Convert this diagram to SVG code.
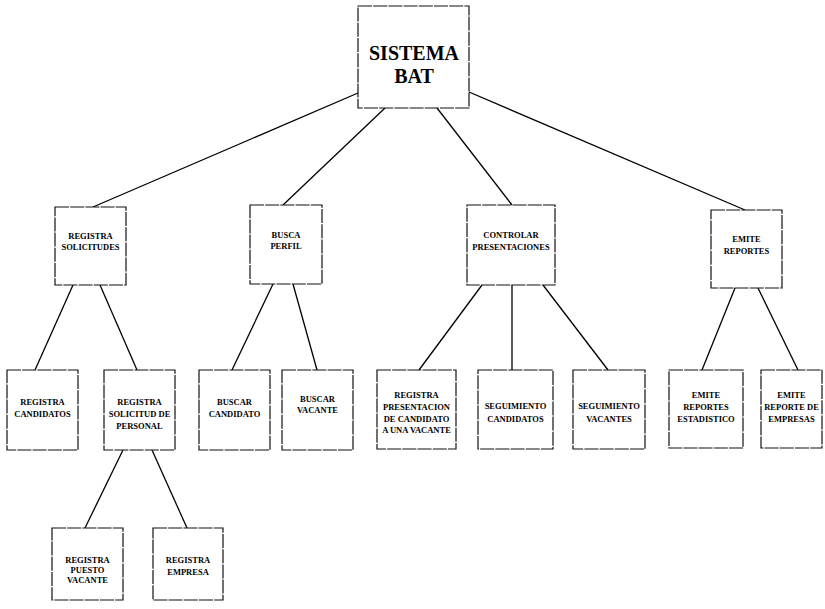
<svg xmlns="http://www.w3.org/2000/svg" width="825" height="609" viewBox="0 0 825 609">
<style>
.box{fill:#fff;stroke:#111;stroke-width:1.2;stroke-dasharray:14 1.2}
.t{font-family:"Liberation Serif","Times New Roman",serif;font-weight:bold;font-size:8.5px;fill:#000;text-anchor:middle}
.big{font-size:20px}
.c line{stroke:#000;stroke-width:1.3}
</style>
<rect width="825" height="609" fill="#fff"/>
<g class="c" id="connectors">
<line x1="358" y1="93" x2="93" y2="207"/>
<line x1="385" y1="108" x2="283" y2="205"/>
<line x1="437" y1="108" x2="512" y2="205"/>
<line x1="469" y1="92" x2="745" y2="210"/>
<line x1="73" y1="285" x2="35" y2="370"/>
<line x1="100" y1="285" x2="137" y2="370"/>
<line x1="273" y1="284" x2="232" y2="370"/>
<line x1="293" y1="284" x2="317" y2="370"/>
<line x1="482" y1="285" x2="419" y2="370"/>
<line x1="512" y1="285" x2="512" y2="370"/>
<line x1="543" y1="285" x2="608" y2="370"/>
<line x1="735" y1="288" x2="702" y2="370"/>
<line x1="758" y1="288" x2="798" y2="370"/>
<line x1="123" y1="450" x2="85" y2="528"/>
<line x1="152" y1="450" x2="187" y2="528"/>
</g>
<g id="root"><rect class="box" x="358" y="6" width="111" height="102"/>
<text class="t big" x="414" y="60">SISTEMA</text><text class="t big" x="414" y="83">BAT</text></g>
<g id="registra-solicitudes"><rect class="box" x="55" y="207" width="71" height="78"/>
<text class="t" x="90.5" y="239">REGISTRA</text><text class="t" x="90.5" y="250">SOLICITUDES</text></g>
<g id="busca-perfil"><rect class="box" x="250" y="205" width="72" height="79"/>
<text class="t" x="286" y="238">BUSCA</text><text class="t" x="286" y="249">PERFIL</text></g>
<g id="controlar-presentaciones"><rect class="box" x="467" y="205" width="88" height="80"/>
<text class="t" x="511" y="238">CONTROLAR</text><text class="t" x="511" y="250">PRESENTACIONES</text></g>
<g id="emite-reportes"><rect class="box" x="711" y="210" width="71" height="78"/>
<text class="t" x="746.5" y="242">EMITE</text><text class="t" x="746.5" y="254">REPORTES</text></g>
<g id="registra-candidatos"><rect class="box" x="7" y="370" width="71" height="80"/>
<text class="t" x="42.5" y="405">REGISTRA</text><text class="t" x="42.5" y="417">CANDIDATOS</text></g>
<g id="registra-solicitud-personal"><rect class="box" x="104" y="370" width="71" height="80"/>
<text class="t" x="139.5" y="405">REGISTRA</text><text class="t" x="139.5" y="417">SOLICITUD DE</text><text class="t" x="139.5" y="429">PERSONAL</text></g>
<g id="buscar-candidato"><rect class="box" x="199" y="370" width="71" height="80"/>
<text class="t" x="234.5" y="405">BUSCAR</text><text class="t" x="234.5" y="417">CANDIDATO</text></g>
<g id="buscar-vacante"><rect class="box" x="282" y="370" width="71" height="80"/>
<text class="t" x="317.5" y="402">BUSCAR</text><text class="t" x="317.5" y="413">VACANTE</text></g>
<g id="registra-presentacion"><rect class="box" x="377" y="370" width="79" height="79"/>
<text class="t" x="416.5" y="398">REGISTRA</text><text class="t" x="416.5" y="410">PRESENTACION</text><text class="t" x="416.5" y="422">DE CANDIDATO</text><text class="t" x="416.5" y="433">A UNA VACANTE</text></g>
<g id="seguimiento-candidatos"><rect class="box" x="478" y="370" width="75" height="79"/>
<text class="t" x="515.5" y="409">SEGUIMIENTO</text><text class="t" x="515.5" y="422">CANDIDATOS</text></g>
<g id="seguimiento-vacantes"><rect class="box" x="573" y="370" width="72" height="79"/>
<text class="t" x="609" y="409">SEGUIMIENTO</text><text class="t" x="609" y="422">VACANTES</text></g>
<g id="emite-reportes-estadistico"><rect class="box" x="669" y="370" width="74" height="78"/>
<text class="t" x="706" y="398">EMITE</text><text class="t" x="706" y="410">REPORTES</text><text class="t" x="706" y="422">ESTADISTICO</text></g>
<g id="emite-reporte-empresas"><rect class="box" x="761" y="370" width="61" height="78"/>
<text class="t" x="791.5" y="398">EMITE</text><text class="t" x="791.5" y="410">REPORTE DE</text><text class="t" x="791.5" y="422">EMPRESAS</text></g>
<g id="registra-puesto-vacante"><rect class="box" x="52" y="528" width="71" height="72"/>
<text class="t" x="87.5" y="563">REGISTRA</text><text class="t" x="87.5" y="573">PUESTO</text><text class="t" x="87.5" y="583">VACANTE</text></g>
<g id="registra-empresa"><rect class="box" x="153" y="528" width="70" height="72"/>
<text class="t" x="188" y="563">REGISTRA</text><text class="t" x="188" y="575">EMPRESA</text></g>
</svg>
